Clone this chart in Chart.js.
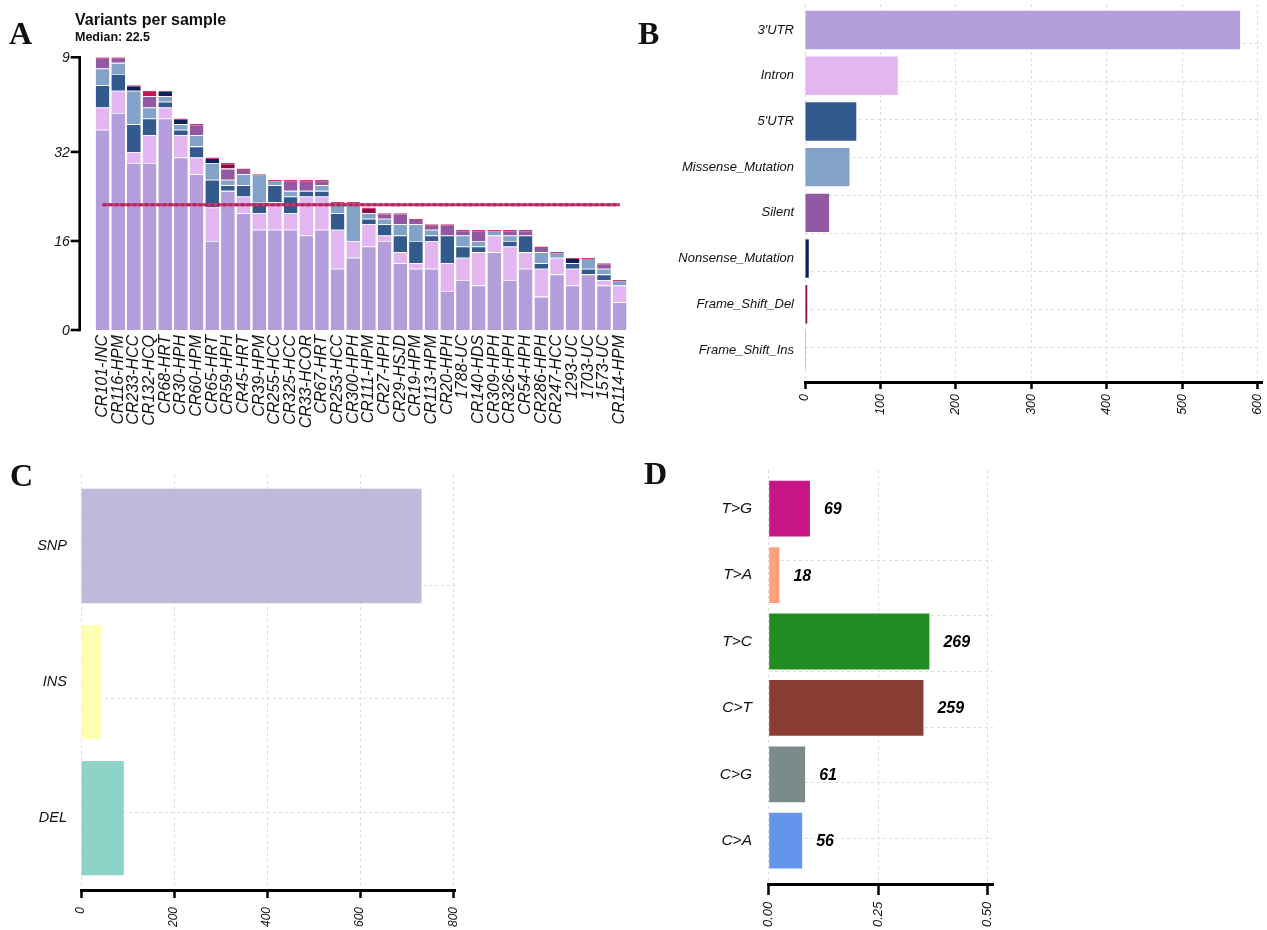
<!DOCTYPE html>
<html>
<head>
<meta charset="utf-8">
<title>Mutation summary</title>
<script src="https://cdn.jsdelivr.net/npm/chart.js@4.4.1/dist/chart.umd.min.js"></script>
<style>
html,body{margin:0;padding:0;background:#fff;}
body{width:1267px;height:930px;position:relative;overflow:hidden;font-family:"Liberation Sans",Arial,sans-serif;}
.box{position:absolute;}
.tag{position:absolute;font-family:"Liberation Serif","DejaVu Serif",serif;font-weight:bold;font-size:32px;line-height:32px;color:#111;filter:blur(0.7px);}
</style>
</head>
<body>

<div class="box" style="left:0;top:0;width:640px;height:432px"><canvas id="samplesChart"></canvas></div>
<div class="box" style="left:640px;top:0;width:627px;height:420px"><canvas id="classChart"></canvas></div>
<div class="box" style="left:0;top:440px;width:480px;height:490px"><canvas id="typeChart"></canvas></div>
<div class="box" style="left:640px;top:440px;width:400px;height:490px"><canvas id="snvChart"></canvas></div>

<div class="tag" style="left:9px;top:17px">A</div>
<div class="tag" style="left:638px;top:17px">B</div>
<div class="tag" style="left:10px;top:459px">C</div>
<div class="tag" style="left:644px;top:457px">D</div>

<script>
/* ================= DATA ================= */

// A: variants per sample, one array per class (stacked bottom -> top)
const sampleNames=["CR101-INC","CR116-HPM","CR233-HCC","CR132-HCQ","CR68-HRT","CR30-HPH","CR60-HPM","CR65-HRT","CR59-HPH","CR45-HRT","CR39-HPM","CR255-HCC","CR325-HCC","CR33-HCOR","CR67-HRT","CR253-HCC","CR300-HPH","CR111-HPM","CR27-HPH","CR29-HSJD","CR19-HPM","CR113-HPM","CR20-HPH","1788-UC","CR140-HDS","CR309-HPH","CR326-HPH","CR54-HPH","CR286-HPH","CR247-HCC","1293-UC","1703-UC","1573-UC","CR114-HPM"];
const utr3PerSample=[36,39,30,30,38,31,28,16,25,21,18,18,18,17,18,11,13,15,16,12,11,11,7,9,8,14,9,11,6,10,8,10,8,5];
const intronPerSample=[4,4,2,5,2,4,3,6,0,3,3,5,3,7,6,7,3,4,1,2,1,5,5,4,6,3,6,3,5,3,3,0,1,3];
const utr5PerSample=[4,3,5,3,1,1,2,5,1,2,2,3,3,1,1,3,0,1,2,3,4,1,5,2,1,0,1,3,1,0,1,1,1,0];
const missensePerSample=[3,2,6,2,1,1,2,3,1,2,5,1,1,0,1,2,7,1,1,2,3,1,0,2,1,1,1,0,2,1,0,2,1,1];
const silentPerSample=[2,1,0,2,0,0,2,0,2,1,0,0,2,2,1,0,0,0,1,2,1,1,2,1,2,0,1,1,1,0,0,0,1,0];
const nonsensePerSample=[0,0,1,0,1,1,0,1,0,0,0,0,0,0,0,0,0,0,0,0,0,0,0,0,0,0,0,0,0,0,1,0,0,0];
const fsDelPerSample=[0,0,0,0,0,0,0,0,1,0,0,0,0,0,0,0,0,1,0,0,0,0,0,0,0,0,0,0,0,0,0,0,0,0];
const fsInsPerSample=[0,0,0,1,0,0,0,0,0,0,0,0,0,0,0,0,0,0,0,0,0,0,0,0,0,0,0,0,0,0,0,0,0,0];
const medianVariants=22.5;
const sampleTickValues=[0,16,32,49];
const sampleTickLabels=["0","16","32","9"];

// B: variant classification
const classNames=["3'UTR","Intron","5'UTR","Missense_Mutation","Silent","Nonsense_Mutation","Frame_Shift_Del","Frame_Shift_Ins"];
const classCounts=[577,123,68,59,32,5,3,1];
const classTicks=[0,100,200,300,400,500,600];

// C: variant type
const typeNames=["SNP","INS","DEL"];
const typeCounts=[732,44,92];
const typeTicks=[0,200,400,600,800];

// D: SNV class
const snvNames=["T>G","T>A","T>C","C>T","C>G","C>A"];
const snvCounts=[69,18,269,259,61,56];
const snvTicks=[0,0.25,0.5];


/* ================= STYLE ================= */

const classColors=["#B39DDB","#E4B6F1","#325A8C","#82A2C8","#9358A4","#0F1F5C","#8B0A45","#C2184F"];
const typeColors=["#BEBADA","#FFFFB3","#8DD3C7"];
const snvColors=["#C71585","#FFA07A","#228B22","#8B3C30","#7A8B8B","#6495ED"];
const GRID="#DCDCDC";
const FONT="'Liberation Sans', Arial, sans-serif";

Chart.defaults.font.family=FONT;

const sampleStacks=[utr3PerSample,intronPerSample,utr5PerSample,missensePerSample,silentPerSample,nonsensePerSample,fsDelPerSample,fsInsPerSample];

function italic(size,weight){
return {size,style:"italic",weight:weight||"normal"};
}

// pin axis size, drop the automatic label padding
function fixSize(size){
return s=>{
if(s.isHorizontal()) s.height=size; else s.width=size;
s.paddingLeft=s.paddingRight=s.paddingTop=s.paddingBottom=0;
};
}

function topSegment(i){
let top=-1;
sampleStacks.forEach((arr,k)=>{ if(arr[i]>0) top=k; });
return top;
}


/* ================= PLUGINS ================= */

// y axis of A sits a little left of the first bar, so it is drawn here
const leftAxisLine={
id:"leftAxisLine",
afterDraw(chart,args,opts){
const {ctx,chartArea}=chart;
const y=chart.scales.y;
const x0=chartArea.left-opts.gap;
ctx.save();
ctx.strokeStyle="#000";
ctx.lineWidth=2.6;
ctx.beginPath();
ctx.moveTo(x0,y.getPixelForValue(y.max)-1.3);
ctx.lineTo(x0,y.getPixelForValue(0)+1.3);
ctx.stroke();
ctx.fillStyle="#111";
ctx.font="italic 14px "+FONT;
ctx.textAlign="right";
ctx.textBaseline="middle";
y.ticks.forEach(t=>{
const py=y.getPixelForValue(t.value);
ctx.beginPath();
ctx.moveTo(x0-opts.tick,py);
ctx.lineTo(x0,py);
ctx.stroke();
ctx.fillText(sampleTickLabels[sampleTickValues.indexOf(t.value)],x0-opts.tick-1,py+1);
});
ctx.restore();
}
};

const medianLine={
id:"medianLine",
afterDatasetsDraw(chart,args,opts){
const {ctx,scales:{x,y}}=chart;
const py=y.getPixelForValue(opts.value);
const x1=x.getPixelForValue(0);
const x2=x.getPixelForValue(sampleNames.length-1);
ctx.save();
ctx.lineWidth=3;
ctx.strokeStyle="#C4467A";
ctx.beginPath();ctx.moveTo(x1,py);ctx.lineTo(x2,py);ctx.stroke();
ctx.setLineDash([4,2]);
ctx.strokeStyle="#AE2860";
ctx.beginPath();ctx.moveTo(x1,py);ctx.lineTo(x2,py);ctx.stroke();
ctx.restore();
}
};

const countLabels={
id:"countLabels",
afterDatasetsDraw(chart){
const ctx=chart.ctx;
ctx.save();
ctx.font="italic bold 16px "+FONT;
ctx.fillStyle="#000";
ctx.textAlign="left";
ctx.textBaseline="middle";
chart.getDatasetMeta(0).data.forEach((bar,i)=>{
ctx.fillText(String(snvCounts[i]),bar.x+14,bar.y+1);
});
ctx.restore();
}
};


/* ================= A: VARIANTS PER SAMPLE ================= */

new Chart(document.getElementById("samplesChart"),{
type:"bar",
data:{
labels:sampleNames,
datasets:sampleStacks.map((arr,k)=>({
label:classNames[k],
data:arr,
backgroundColor:classColors[k],
borderColor:c=>topSegment(c.dataIndex)===k?"#CC3F72":"rgba(255,255,255,0.55)",
borderWidth:c=>arr[c.dataIndex]>0?{top:topSegment(c.dataIndex)===k?1.4:0.8,left:0,right:0,bottom:0}:0,
borderSkipped:false,
barPercentage:0.875,
categoryPercentage:1
}))
},
options:{
responsive:true,
maintainAspectRatio:false,
animation:false,
layout:{padding:{left:75,right:12.5,top:0,bottom:0}},
plugins:{
legend:{display:false},
tooltip:{enabled:false},
title:{display:true,text:"Variants per sample",align:"start",color:"#111",font:{size:16,weight:"bold"},padding:{top:11,bottom:0}},
subtitle:{display:true,text:"Median: "+medianVariants,align:"start",color:"#111",font:{size:12.5,weight:"bold"},padding:{top:0,bottom:12.1}},
leftAxisLine:{gap:15,tick:9},
medianLine:{value:medianVariants}
},
scales:{
x:{
stacked:true,
grid:{display:false,drawTicks:false},
border:{display:false},
ticks:{autoSkip:false,minRotation:90,maxRotation:90,padding:5,color:"#111",font:italic(16)},
afterFit:fixSize(102)
},
y:{
stacked:true,
min:0,
max:49,
grid:{display:false,drawTicks:false},
border:{display:false},
afterBuildTicks:s=>{s.ticks=sampleTickValues.map(v=>({value:v}));},
ticks:{display:false},
afterFit:fixSize(19.7)
}
}
},
plugins:[leftAxisLine,medianLine]
});


/* ================= B, C, D: HORIZONTAL BARS ================= */

function createHorizontalChart(id,cfg){

return new Chart(document.getElementById(id),{
type:"bar",
data:{
labels:cfg.names,
datasets:[{
data:cfg.values.map((v,i)=>({x:v,y:i})),
backgroundColor:cfg.colors,
borderWidth:0,
barPercentage:0.84,
categoryPercentage:1
}]
},
options:{
indexAxis:"y",
responsive:true,
maintainAspectRatio:false,
animation:false,
layout:{padding:cfg.padding},
plugins:{legend:{display:false},tooltip:{enabled:false}},
scales:{
x:{
type:"linear",
min:0,
max:cfg.xMax,
afterBuildTicks:s=>{s.ticks=cfg.xTicks.map(v=>({value:v}));},
grid:{color:GRID,lineWidth:1,drawTicks:true,tickLength:cfg.tickLength,tickColor:"#000",tickWidth:2.5,offset:false},
border:{display:true,color:"#000",width:3,dash:[3,3]},
ticks:{autoSkip:false,minRotation:90,maxRotation:90,padding:cfg.xPad,color:"#111",font:italic(cfg.xFont),callback:cfg.xFormat},
afterFit:fixSize(cfg.xHeight)
},
y:{
type:"linear",
min:cfg.yMin,
max:cfg.yMax,
reverse:true,
offset:false,
afterBuildTicks:s=>{s.ticks=cfg.names.map((_,i)=>({value:i}));},
grid:{display:false,drawTicks:false,offset:false},
border:{display:false},
ticks:{autoSkip:false,padding:cfg.yPad,color:"#111",font:italic(cfg.yFont),callback:v=>cfg.names[v]},
afterFit:fixSize(cfg.yWidth)
},
yg:{
type:"linear",
position:"left",
min:0,
max:cfg.gridSpan,
reverse:true,
offset:false,
afterBuildTicks:s=>{s.ticks=cfg.gridRows.map(v=>({value:v}));},
grid:{color:GRID,lineWidth:1,drawTicks:false,offset:false},
border:{display:false,dash:[3,3]},
ticks:{display:false},
afterFit:fixSize(0)
}
}
},
plugins:cfg.plugins||[]
});

}

createHorizontalChart("classChart",{
names:classNames,values:classCounts,colors:classColors,
padding:{left:0,right:5,top:4,bottom:0},
xMax:606,xTicks:classTicks,xFont:12.5,xPad:5,tickLength:7,xHeight:38,xFormat:v=>String(v),
yMin:-0.57,yMax:7.7,yFont:13,yPad:11,yWidth:165,
gridSpan:378,gridRows:[39,77,115,153,191,229,267,305,343]
});

createHorizontalChart("typeChart",{
names:typeNames,values:typeCounts,colors:typeColors,
padding:{left:0,right:24.5,top:35,bottom:0},
xMax:805,xTicks:typeTicks,xFont:12,xPad:9,tickLength:8,xHeight:40,xFormat:v=>String(v),
yMin:-0.522,yMax:2.529,yFont:14.5,yPad:14,yWidth:81,
gridSpan:415,gridRows:[110,223.5,337]
});

const snvTotal=snvCounts.reduce((a,b)=>a+b,0);

createHorizontalChart("snvChart",{
names:snvNames,values:snvCounts.map(n=>n/snvTotal),colors:snvColors,
padding:{left:0,right:47,top:30,bottom:0},
xMax:0.513,xTicks:snvTicks,xFont:13,xPad:6.7,tickLength:11,xHeight:46,xFormat:v=>v.toFixed(2),
yMin:-0.583,yMax:5.652,yFont:15.5,yPad:16.7,yWidth:128.7,
gridSpan:414,gridRows:[90.7,145.7,201.7,257.3,312.7,368.7],
plugins:[countLabels]
});
</script>
</body>
</html>
